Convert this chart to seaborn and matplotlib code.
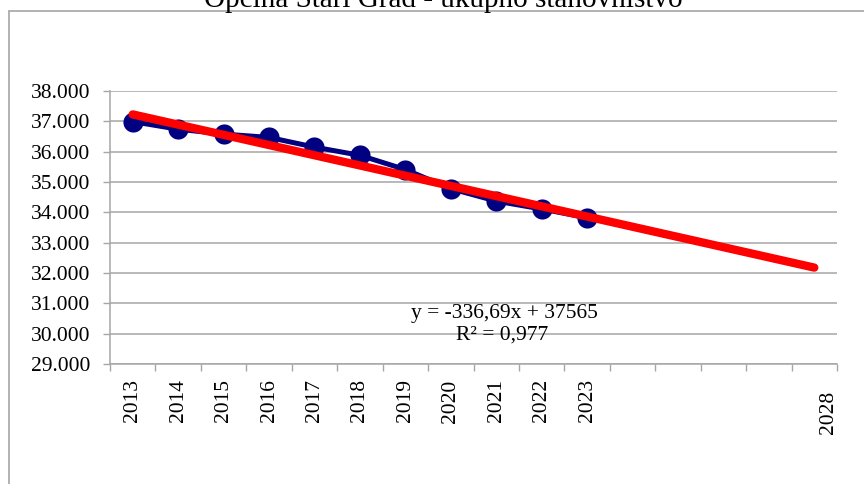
import numpy as np
import pandas as pd
import matplotlib
matplotlib.use("Agg")
import matplotlib.pyplot as plt
import matplotlib.transforms as mtransforms
from matplotlib.lines import Line2D
from matplotlib.ticker import FixedLocator, FuncFormatter, MultipleLocator
import seaborn as sns

# ---- data ----
years = [2013, 2014, 2015, 2016, 2017, 2018, 2019, 2020, 2021, 2022, 2023]
population = [36990, 36740, 36580, 36470, 36150, 35880, 35410, 34780, 34370, 34110, 33820]
axis_years = list(range(2013, 2029))
tick_labels = ["2013", "2014", "2015", "2016", "2017", "2018", "2019", "2020",
               "2021", "2022", "2023", "", "", "", "", "2028"]
trend_slope = -336.69
trend_intercept = 37565
eq_text = "y = -336,69x + 37565"
r2_text = "R² = 0,977"
title = "Općina Stari Grad - ukupno stanovništvo"

# ---- style ----
sns.set_theme(style="white")
plt.rcParams['font.family'] = ['Liberation Serif', 'DejaVu Serif']
GRAY = "#a6a6a6"

W, H = 864, 484
fig = plt.figure(figsize=(W / 100, H / 100), dpi=100)
ax = fig.add_axes([110 / W, 1 - 364 / H, (837 - 110) / W, (364 - 91) / H])

df = pd.DataFrame({"x": np.arange(1, len(years) + 1), "pop": population})
sns.lineplot(data=df, x="x", y="pop", ax=ax, color="#000080", lw=3.6,
             marker="o", markersize=14.5, markeredgecolor="#000080",
             markeredgewidth=0, zorder=3)

tx = np.arange(1, len(axis_years) + 1)
trend_df = pd.DataFrame({"x": tx, "trend": trend_slope * tx + trend_intercept})
sns.lineplot(data=trend_df, x="x", y="trend", ax=ax, color="#ff0000", lw=6,
             solid_capstyle="round", zorder=4)

ax.set_xlim(0.5, len(axis_years) + 0.5)
ax.set_ylim(29000, 38000)
ax.set_xlabel("")
ax.set_ylabel("")

# y axis
ax.yaxis.set_major_locator(MultipleLocator(1000))
ax.yaxis.set_major_formatter(FuncFormatter(lambda v, p: f"{int(v):,}".replace(",", ".")))
ax.grid(axis="y", color=GRAY, lw=1.1)
ax.grid(axis="x", visible=False)
ax.set_axisbelow(True)
ax.tick_params(axis="y", which="major", left=True, length=5, width=1, color=GRAY,
               direction="out", pad=9, labelsize=15.5, labelcolor="black")

# x axis: boundaries as major ticks, labels at centers (minor)
ax.xaxis.set_major_locator(FixedLocator(np.arange(0.5, len(axis_years) + 1, 1.0)))
ax.xaxis.set_major_formatter(FuncFormatter(lambda v, p: ""))
ax.xaxis.set_minor_locator(FixedLocator(tx))
ax.set_xticklabels(tick_labels, minor=True, rotation=90)
ax.tick_params(axis="x", which="major", bottom=True, length=5, width=1, color=GRAY,
               direction="out")
ax.tick_params(axis="x", which="minor", bottom=True, length=0, pad=11,
               labelsize=15.5, labelcolor="black")

for lab in ax.xaxis.get_minorticklabels():
    if lab.get_text() == "2028":
        lab.set_transform(lab.get_transform() +
                          mtransforms.ScaledTranslation(0.14, -0.11, fig.dpi_scale_trans))

for s in ["top", "right"]:
    ax.spines[s].set_visible(False)
for s in ["left", "bottom"]:
    ax.spines[s].set_color(GRAY)
    ax.spines[s].set_linewidth(1.1)

# trendline label
ax.text(9.17, 30680, eq_text, ha="center", va="center", fontsize=15.5, color="black")
ax.text(9.13, 29955, r2_text, ha="center", va="center", fontsize=15.5, color="black")

# chart frame (partly outside canvas)
fx = 9.3 / W
fy = 1 - 10.7 / H
fig.add_artist(Line2D([fx, fx], [0, fy], transform=fig.transFigure, color=GRAY, lw=1.2))
fig.add_artist(Line2D([fx, 1], [fy, fy], transform=fig.transFigure, color=GRAY, lw=1.2))

# title (cut off at top, as in the reference)
fig.text(443 / W, 1 - 7 / H, title, ha="center", va="baseline", fontsize=21, color="black")

fig.savefig("out.png", dpi=100)
